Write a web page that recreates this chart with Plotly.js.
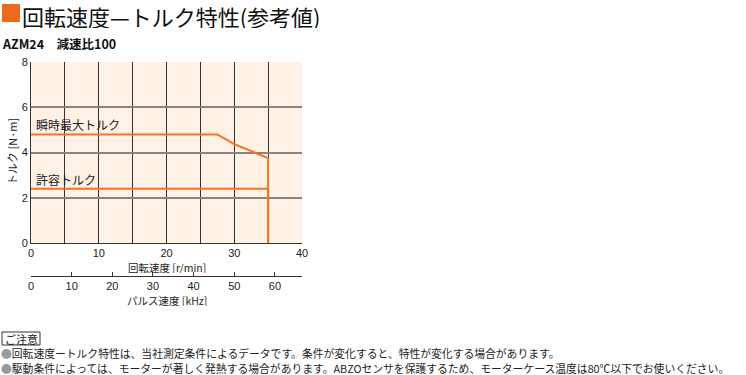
<!DOCTYPE html>
<html><head><meta charset="utf-8">
<script src="https://cdn.plot.ly/plotly-3.0.1.min.js"></script>
<style>body{margin:0;background:#fff;} #chart{width:746px;height:375px;}</style>
</head><body><div id="chart"></div>
<script>
// Data
const speedMax = [0, 27.5, 30, 35, 35];
const torqueMax = [4.8, 4.8, 4.37, 3.75, 0];
const speedRated = [0, 35, 35];
const torqueRated = [2.4, 2.4, 0];
const speedTicks = [0, 10, 20, 30, 40];
const pulseTicks = [0, 10, 20, 30, 40, 50, 60];
const torqueTicks = [0, 2, 4, 6, 8];
const pulseMax = 66.667;
const labelMax = "瞬時最大トルク";
const labelRated = "許容トルク";
const titleText = "回転速度—トルク特性(参考値)";
const subText = "AZM24　減速比100";
const xTitle = "回転速度 [r/min]";
const x2Title = "パルス速度 [kHz]";
const yTitle = "トルク [N·m]";
const note0 = "ご注意";
const note1 = "回転速度ートルク特性は、当社測定条件によるデータです。条件が変化すると、特性が変化する場合があります。";
const note2 = "駆動条件によっては、モーターが著しく発熱する場合があります。ABZOセンサを保護するため、モーターケース温度は80℃以下でお使いください。";

const orange = "#F27524";
const jp = "Noto Sans CJK JP, sans-serif";
const nar = "Liberation Sans Narrow, Liberation Sans, Arial, sans-serif";

const traces = [
  {x: speedMax, y: torqueMax, mode: "lines", line: {color: orange, width: 2}, hoverinfo: "skip", xaxis: "x", yaxis: "y"},
  {x: speedRated, y: torqueRated, mode: "lines", line: {color: orange, width: 2}, hoverinfo: "skip", xaxis: "x", yaxis: "y"},
  {x: [0, pulseMax], y: [0, 0], mode: "lines", line: {width: 0}, opacity: 0, hoverinfo: "skip", xaxis: "x2", yaxis: "y"}
];

const W = 746, H = 375, L = 31, R = 302, T = 62, B = 276, Y0 = 243;
const plotH = B - T, plotW = R - L;
const px = (x) => (x - L) / plotW;
const py = (y) => (B - y) / plotH;

const txt = (text, x, y, size, opts) => Object.assign({
  text: text, xref: "paper", yref: "paper", x: px(x), y: py(y), xanchor: "left", yanchor: "middle",
  showarrow: false, borderpad: 0, font: {family: jp, size: size, color: "#222"}
}, opts || {});

const layout = {
  width: W, height: H,
  margin: {l: L, r: W - R, t: T, b: H - B, pad: 0},
  paper_bgcolor: "#ffffff",
  plot_bgcolor: "rgba(0,0,0,0)",
  showlegend: false,
  xaxis: {
    range: [0, 40], tickvals: speedTicks, ticks: "", showgrid: true, gridcolor: "#3a3232", gridwidth: 1,
    minor: {dtick: 5, tick0: 0, showgrid: true, gridcolor: "#3a3232", gridwidth: 1},
    showline: true, linecolor: "#3a3232", linewidth: 1, zeroline: false,
    tickfont: {family: nar, size: 11, color: "#222"}, ticklen: 0,
    anchor: "y", fixedrange: true
  },
  xaxis2: {
    range: [0, pulseMax], tickvals: pulseTicks, ticks: "inside", ticklen: 4, tickcolor: "#3a3232",
    showgrid: false, showline: true, linecolor: "#3a3232", linewidth: 1, zeroline: false,
    tickfont: {family: nar, size: 11, color: "#222"},
    anchor: "free", position: 0, overlaying: "x", side: "bottom", fixedrange: true
  },
  yaxis: {
    range: [0, 8], domain: [py(Y0), 1], tickvals: torqueTicks, ticks: "", showgrid: true,
    gridcolor: "#8c8282", gridwidth: 2, showline: true, linecolor: "#3a3232", linewidth: 1, zeroline: false,
    tickfont: {family: nar, size: 11, color: "#222"},
    fixedrange: true
  },
  shapes: [
    {type: "rect", xref: "paper", yref: "paper", x0: 0, x1: 1, y0: py(Y0), y1: 1, fillcolor: "#FFF1E5", line: {width: 0}, layer: "below"},
    {type: "rect", xref: "paper", yref: "paper", x0: px(2), x1: px(20), y0: py(22), y1: py(4), fillcolor: "#EE6A1B", line: {width: 0}},
    {type: "rect", xref: "paper", yref: "paper", x0: px(2), x1: px(40), y0: py(345), y1: py(332), fillcolor: "rgba(0,0,0,0)", line: {width: 1, color: "#333"}}
  ],
  annotations: [
    txt(titleText, 21, 16, 22, {height: 24, font: {family: jp, size: 22, color: "#111"}}),
    txt("<b>" + subText + "</b>", 1, 43, 12.5, {font: {family: jp, size: 12.5, color: "#111"}}),
    txt(xTitle, 166.5, 267, 10.5, {xanchor: "center", height: 11}),
    txt(x2Title, 166.5, 300, 10.5, {xanchor: "center", height: 11}),
    txt(yTitle, 12, 152, 11, {xanchor: "center", textangle: -90}),
    {text: labelMax, xref: "x", yref: "y", x: 0.5, y: 4.8, xanchor: "left", yanchor: "bottom", yshift: -1, showarrow: false, font: {family: jp, size: 12, color: "#222"}},
    {text: labelRated, xref: "x", yref: "y", x: 0.5, y: 2.4, xanchor: "left", yanchor: "bottom", yshift: -1, showarrow: false, font: {family: jp, size: 12, color: "#222"}},
    txt(note0, 21, 338.5, 11, {xanchor: "center", height: 12}),
    txt("<span style='color:#9a9a9a'>●</span>" + note1, 0, 352.5, 10.8, {height: 12}),
    txt("<span style='color:#9a9a9a'>●</span>" + note2, 0, 367.5, 10.8, {height: 12})
  ]
};

Plotly.newPlot("chart", traces, layout, {staticPlot: true, displayModeBar: false});
</script></body></html>
